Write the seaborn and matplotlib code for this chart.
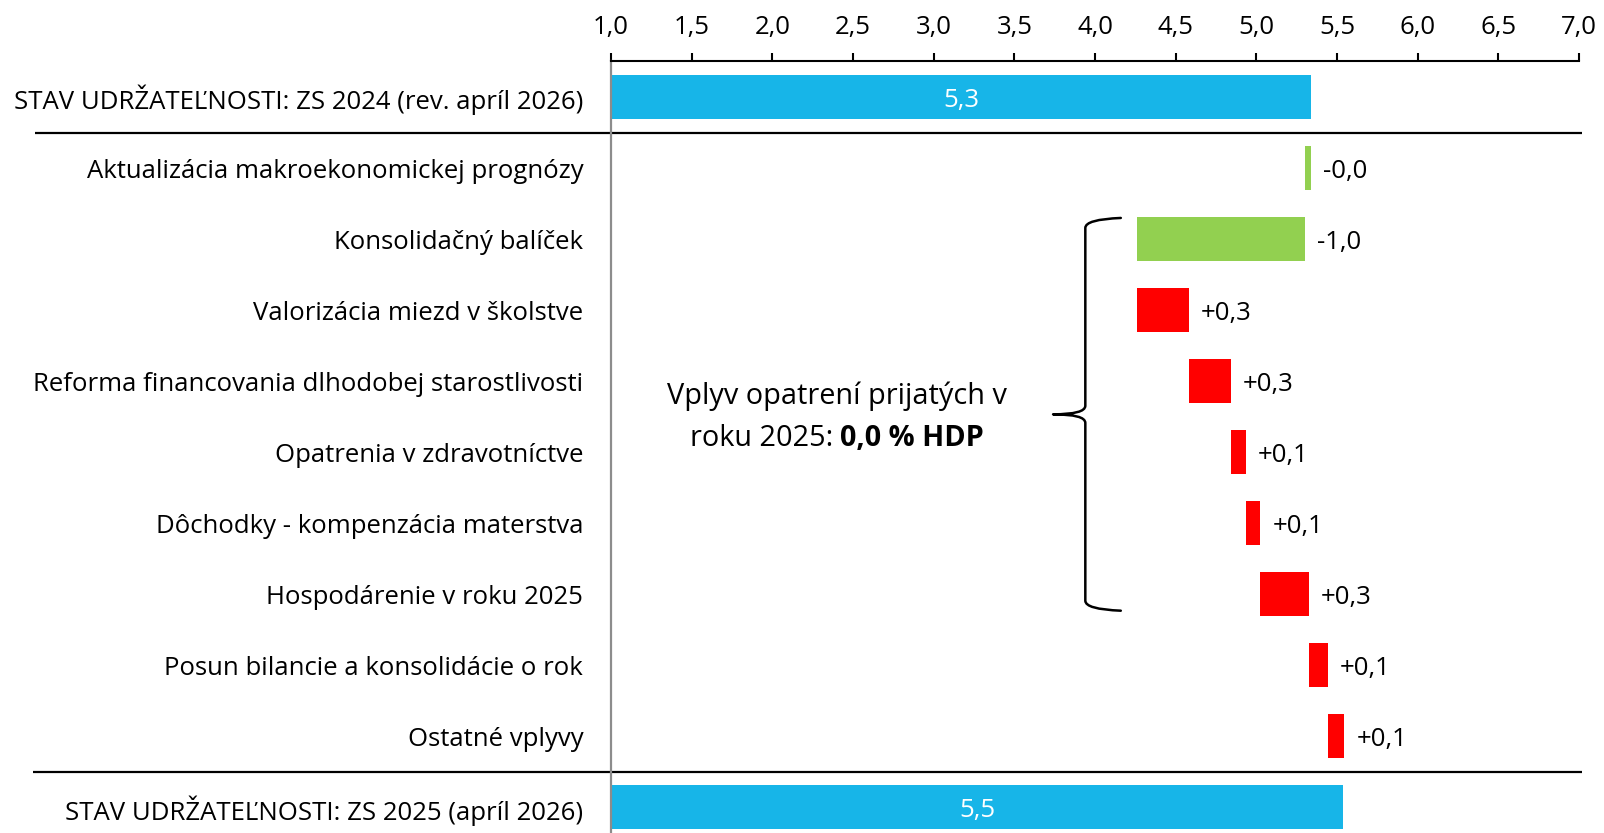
import numpy as np
import pandas as pd
import matplotlib
matplotlib.use("Agg")
import matplotlib.pyplot as plt
import matplotlib.transforms as mtransforms
from matplotlib.path import Path
from matplotlib.patches import PathPatch
import seaborn as sns

# ---------------- data ----------------
categories = [
    "STAV UDRŽATEĽNOSTI: ZS 2024 (rev. apríl 2026)",
    "Aktualizácia makroekonomickej prognózy",
    "Konsolidačný balíček",
    "Valorizácia miezd v školstve",
    "Reforma financovania dlhodobej starostlivosti",
    "Opatrenia v zdravotníctve",
    "Dôchodky - kompenzácia materstva",
    "Hospodárenie v roku 2025",
    "Posun bilancie a konsolidácie o rok",
    "Ostatné vplyvy",
    "STAV UDRŽATEĽNOSTI: ZS 2025 (apríl 2026)",
]
start_value = 5.34
changes = [-0.04, -1.04, 0.32, 0.26, 0.095, 0.09, 0.30, 0.12, 0.10]
end_value = 5.54
x_ticks = [1.0, 1.5, 2.0, 2.5, 3.0, 3.5, 4.0, 4.5, 5.0, 5.5, 6.0, 6.5, 7.0]
note_line1 = "Vplyv opatrení prijatých v"
note_line2_regular = "roku 2025: "
note_line2_bold = "0,0 % HDP"
brace_rows = (2, 7)  # Konsolidačný balíček .. Hospodárenie v roku 2025

# ---------------- style ----------------
BLUE = "#17B5E8"
GREEN = "#92D050"
RED = "#FF0000"
sns.set_theme(style="white")
plt.rcParams["font.family"] = ["Open Sans", "DejaVu Sans"]
plt.rcParams["text.color"] = "black"
FS = 18.5
FS_NOTE = 20.8

# ---------------- waterfall geometry ----------------
lefts, widths, colors = [0.0], [start_value], [BLUE]
running = start_value
for d in changes:
    lefts.append(min(running, running + d))
    widths.append(abs(d))
    colors.append(GREEN if d < 0 else RED)
    running += d
lefts.append(0.0)
widths.append(end_value)
colors.append(BLUE)

df = pd.DataFrame({"category": categories, "width": widths, "left": lefts})

fig = plt.figure(figsize=(16.04, 8.33), dpi=100)
ax = fig.add_axes([611 / 1604, 0.0, (1579 - 611) / 1604, (833 - 61) / 833])

sns.barplot(data=df, x="width", y="category", order=categories, orient="y",
            color=BLUE, saturation=1,
            left=df["left"].to_numpy(), facecolor=colors, width=0.62,
            errorbar=None, linewidth=0, ax=ax)

ax.set_xlim(1.0, 7.0)
ax.set_ylim(10.36, -0.51)
ax.set_xlabel("")
ax.set_ylabel("")

# x axis on top
ax.xaxis.set_ticks_position("top")
ax.xaxis.set_label_position("top")
ax.set_xticks(x_ticks)
ax.set_xticklabels([f"{t:.1f}".replace(".", ",") for t in x_ticks], fontsize=FS)
ax.tick_params(axis="x", direction="out", length=6, width=1.5, color="black",
               pad=9, labelcolor="black")
ax.tick_params(axis="y", length=0, pad=20, labelsize=FS, labelcolor="black")

for side in ["right", "bottom"]:
    ax.spines[side].set_visible(False)
ax.spines["top"].set_color("black")
ax.spines["top"].set_linewidth(1.5)
ax.spines["left"].set_color("#8C8C8C")
ax.spines["left"].set_linewidth(1.6)
ax.grid(False)

# value labels
ax.text((1.0 + start_value) / 2, 0, f"{start_value:.1f}".replace(".", ","),
        color="white", ha="center", va="center_baseline", fontsize=FS)
for i, d in enumerate(changes, start=1):
    right = lefts[i] + widths[i]
    ax.text(right + 0.075, i, f"{d:+.1f}".replace(".", ","),
            ha="left", va="center_baseline", fontsize=FS, color="black")
ax.text((1.0 + end_value) / 2, len(categories) - 1,
        f"{end_value:.1f}".replace(".", ","),
        color="white", ha="center", va="center_baseline", fontsize=FS)

# separator lines
blend = mtransforms.blended_transform_factory(fig.transFigure, ax.transData)
for yy, x0 in [(0.5, 35), (len(categories) - 1.5, 33)]:
    ax.plot([x0 / 1604, 1582 / 1604], [yy, yy], color="black", lw=1.6,
            transform=blend, clip_on=False, solid_capstyle="butt")

# curly brace
y_top = brace_rows[0] - 0.30
y_bot = brace_rows[1] + 0.23
y_mid = (y_top + y_bot) / 2
x_tip, x_v, x_end = 3.74, 3.94, 4.16
r = 0.14
rm = 0.12
verts = [
    (x_end, y_top), (x_v, y_top + 0.02), (x_v, y_top + r),
    (x_v, y_mid - rm), (x_v, y_mid), (x_tip, y_mid),
    (x_v, y_mid), (x_v, y_mid + rm),
    (x_v, y_bot - r), (x_v, y_bot - 0.02), (x_end, y_bot),
]
codes = [Path.MOVETO, Path.CURVE3, Path.CURVE3,
         Path.LINETO, Path.CURVE3, Path.CURVE3,
         Path.CURVE3, Path.CURVE3,
         Path.LINETO, Path.CURVE3, Path.CURVE3]
ax.add_patch(PathPatch(Path(verts, codes), facecolor="none", edgecolor="black",
                       lw=1.8, capstyle="round", joinstyle="round"))

# annotation text
xc = 2.40
y1, y2 = 4.16, 4.75
ax.text(xc, y1, note_line1, ha="center", va="center_baseline",
        fontsize=FS_NOTE, color="black")
t_reg = ax.text(xc, y2, note_line2_regular, ha="left", va="center_baseline",
                fontsize=FS_NOTE, color="black")
t_bold = ax.text(xc, y2, note_line2_bold, ha="left", va="center_baseline",
                 fontsize=FS_NOTE, fontweight="bold", color="black")
fig.canvas.draw()
renderer = fig.canvas.get_renderer()
w_reg = t_reg.get_window_extent(renderer).width
w_bold = t_bold.get_window_extent(renderer).width
x_c_px = ax.transData.transform((xc, y2))[0]
x0_px = x_c_px - (w_reg + w_bold) / 2
inv = ax.transData.inverted()
t_reg.set_x(inv.transform((x0_px, 0))[0])
t_bold.set_x(inv.transform((x0_px + w_reg, 0))[0])

fig.savefig("out.png", dpi=100)
